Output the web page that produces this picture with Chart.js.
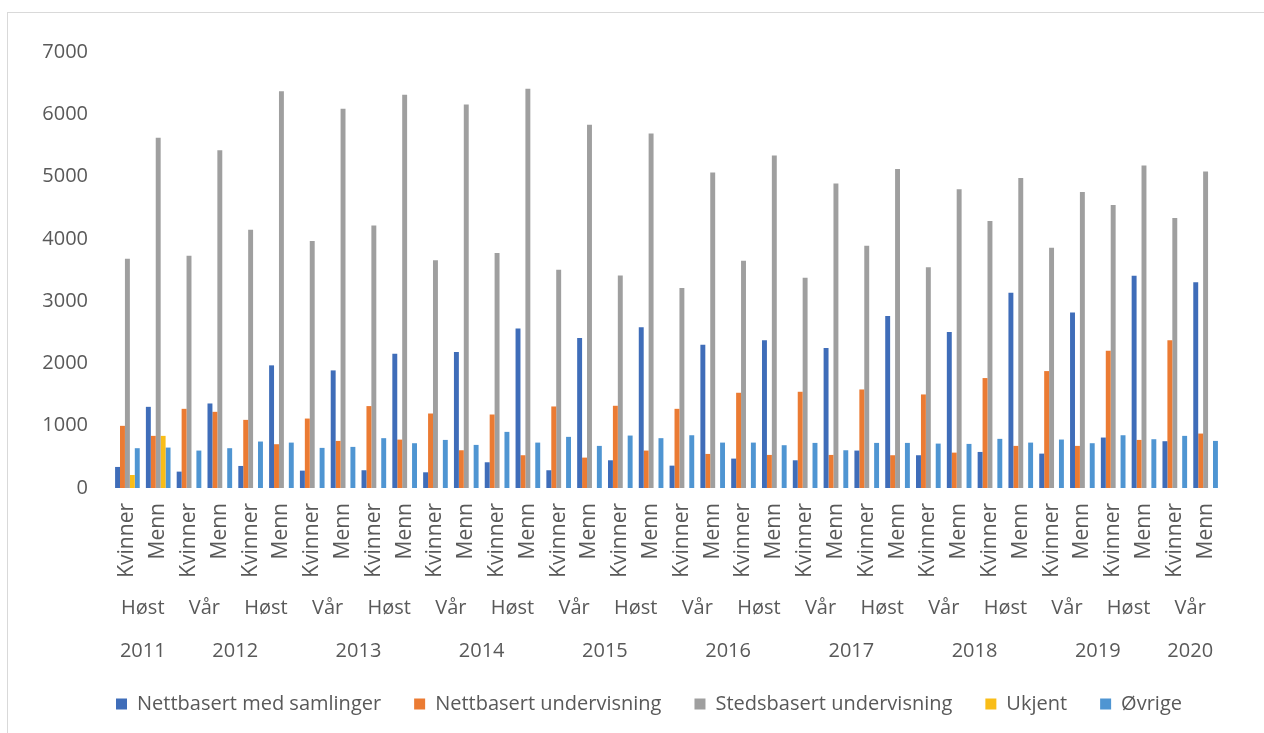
<!DOCTYPE html>
<html lang="no">
<head>
<meta charset="utf-8">
<title>Studenter etter studieform</title>
<script src="https://cdn.jsdelivr.net/npm/chart.js@4.4.1/dist/chart.umd.min.js"></script>
<style>
  html, body { margin: 0; padding: 0; background: #fff; overflow: hidden; }
  #frame { position: absolute; left: 7px; top: 12px; width: 1300px; height: 800px; border: 1px solid #d9d9d9; }
  #wrap { position: absolute; left: 0; top: 0; width: 1264px; height: 733px; }
</style>
</head>
<body>
<div id="frame"></div>
<div id="wrap"><canvas id="studieChart" width="1264" height="733"></canvas></div>
<script>
const genders = ['Kvinner', 'Menn'];
const semesters = ['Høst', 'Vår', 'Høst', 'Vår', 'Høst', 'Vår', 'Høst', 'Vår', 'Høst',
                   'Vår', 'Høst', 'Vår', 'Høst', 'Vår', 'Høst', 'Vår', 'Høst', 'Vår'];
const years = ['2011', '2012', '2013', '2014', '2015', '2016', '2017', '2018', '2019', '2020'];
const yearSemesters = [1, 2, 2, 2, 2, 2, 2, 2, 2, 1]; // how many semesters each year covers
const categories = semesters.flatMap(() => genders);

const nettbasertSamlinger = [338, 1303, 263, 1357, 354, 1969, 279, 1888, 285, 2156,
    252, 2183, 413, 2559, 285, 2409, 445, 2580, 359, 2301, 472, 2371, 445, 2248,
    601, 2763, 526, 2505, 579, 3133, 552, 2816, 810, 3406, 751, 3304];
const nettbasertUndervisning = [998, 837, 1271, 1223, 1094, 703, 1115, 756, 1315, 777,
    1196, 606, 1180, 526, 1309, 488, 1320, 601, 1271, 547, 1529, 531, 1545, 531,
    1582, 526, 1502, 568, 1765, 676, 1877, 676, 2205, 772, 2371, 874];
const stedsbasert = [3680, 5622, 3728, 5423, 4146, 6368, 3964, 6088, 4216, 6313,
    3658, 6158, 3771, 6410, 3503, 5831, 3412, 5692, 3213, 5064, 3648, 5338, 3374, 4887,
    3889, 5123, 3546, 4796, 4286, 4978, 3857, 4753, 4543, 5176, 4334, 5080];
const ukjent = [209, 837, null, null, null, null, null, null, null, null,
    null, null, null, null, null, null, null, null, null, null, null, null, null, null,
    null, null, null, null, null, null, null, null, null, null, null, null];
const ovrige = [639, 649, 601, 639, 746, 729, 644, 660, 800, 719,
    772, 692, 901, 729, 821, 676, 842, 800, 847, 729, 729, 687, 724, 606,
    724, 724, 713, 708, 789, 729, 778, 719, 847, 783, 837, 756];

const textColor = '#595959';
const fontFamily = '"Open Sans", "DejaVu Sans", sans-serif';

// semester and year rows under the Kvinner/Menn ticks
const groupLabels = {
    id: 'groupLabels',
    afterDraw(chart) {
        const x = chart.scales.x;
        const ctx = chart.ctx;
        ctx.save();
        ctx.font = '20px ' + fontFamily;
        ctx.fillStyle = textColor;
        ctx.textAlign = 'center';
        ctx.textBaseline = 'middle';
        semesters.forEach((s, i) => {
            const mid = (x.getPixelForTick(2 * i) + x.getPixelForTick(2 * i + 1)) / 2;
            ctx.fillText(s, mid, x.top + 120);
        });
        let start = 0;
        years.forEach((y, i) => {
            const end = start + yearSemesters[i] * 2 - 1;
            const mid = (x.getPixelForTick(start) + x.getPixelForTick(end)) / 2;
            ctx.fillText(y, mid, x.top + 163);
            start = end + 1;
        });
        ctx.restore();
    }
};

const ds = (label, data, color) => ({
    label: label,
    data: data,
    backgroundColor: color,
    borderWidth: 0,
    categoryPercentage: 0.8,
    barPercentage: 1.0
});

const ctx = document.getElementById('studieChart').getContext('2d');
new Chart(ctx, {
    type: 'bar',
    data: {
        labels: categories,
        datasets: [
            ds('Nettbasert med samlinger', nettbasertSamlinger, '#3F6DB9'),
            ds('Nettbasert undervisning', nettbasertUndervisning, '#EB7B33'),
            ds('Stedsbasert undervisning', stedsbasert, '#9F9F9F'),
            ds('Ukjent', ukjent, '#F9BD18'),
            ds('Øvrige', ovrige, '#4F95D2')
        ]
    },
    options: {
        responsive: false,
        animation: false,
        layout: { padding: { top: 52, right: 0, left: 34, bottom: 9 } },
        plugins: {
            legend: {
                position: 'bottom',
                labels: {
                    boxWidth: 11,
                    boxHeight: 11,
                    padding: 33,
                    color: textColor,
                    font: { family: fontFamily, size: 20 }
                }
            },
            tooltip: { enabled: false }
        },
        scales: {
            x: {
                grid: { display: false, drawTicks: false },
                border: { display: false },
                ticks: {
                    autoSkip: false,
                    minRotation: 90,
                    maxRotation: 90,
                    padding: 15,
                    color: textColor,
                    font: { family: fontFamily, size: 21 }
                },
                afterFit(scale) { scale.height = 173; }
            },
            y: {
                min: 0,
                max: 7000,
                grid: { display: false, drawTicks: false },
                border: { display: false },
                ticks: {
                    stepSize: 1000,
                    padding: 24,
                    color: textColor,
                    font: { family: fontFamily, size: 20 },
                    callback: (value) => String(value)
                },
                afterFit(scale) { scale.width = 78; }
            },
            // empty right margin so the plot ends where the reference does
            spacer: {
                position: 'right',
                grid: { display: false, drawTicks: false },
                border: { display: false },
                ticks: { display: false },
                afterFit(scale) { scale.width = 43; }
            }
        }
    },
    plugins: [groupLabels]
});
</script>
</body>
</html>
